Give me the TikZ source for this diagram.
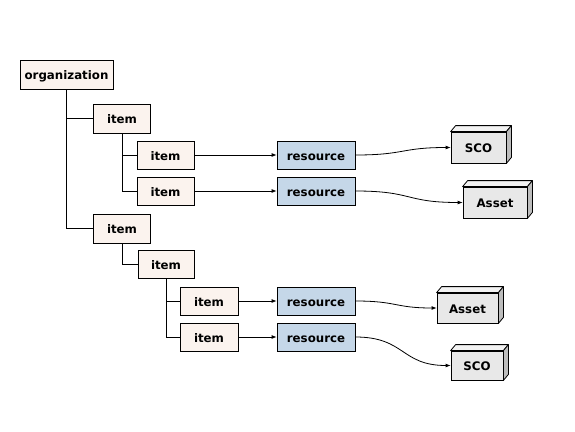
\documentclass[tikz,border=0pt]{standalone}
\usepackage{fontspec}
\setmainfont{DejaVu Sans}
\usetikzlibrary{arrows.meta,calc}
\definecolor{itemfill}{HTML}{FBF3EE}
\definecolor{resfill}{HTML}{C5D7E8}
\definecolor{boxfront}{HTML}{E8E8E8}
\definecolor{boxtop}{HTML}{F2F2F2}
\definecolor{boxside}{HTML}{BDBDBD}
\tikzset{
  base/.style={draw=black, line width=0.8pt, font=\bfseries\fontsize{11.8}{13}\selectfont, inner sep=0pt, text height=10pt, text depth=0pt, anchor=center},
  itembox/.style={base, fill=itemfill, minimum width=57pt, minimum height=28pt},
  resbox/.style={base, fill=resfill, minimum width=78pt, minimum height=28pt},
  cube/.style={base, fill=boxfront, minimum height=31pt},
  tree/.style={line width=0.8pt},
  link/.style={line width=0.8pt, -{Latex[length=5pt,width=4pt]}},
}
\newcommand{\extrude}[1]{%
  \fill[boxtop, draw=black, line width=0.8pt, line join=round] (#1.north west) -- ++(5,-6) -- ($(#1.north east)+(5,-6)$) -- (#1.north east) -- cycle;
  \fill[boxside, draw=black, line width=0.8pt, line join=round] (#1.north east) -- ++(5,-6) -- ($(#1.south east)+(5,-6)$) -- (#1.south east) -- cycle;
}
\begin{document}
\begin{tikzpicture}[x=1pt, y=-1pt]
\useasboundingbox (0,0) rectangle (575,431);
% tree nodes
\node[itembox, minimum width=93pt, minimum height=29pt] (org) at (66.5,74.5) {organization};
\node[itembox, minimum height=29pt] (i1) at (122,118.5) {item};
\node[itembox] (i1a) at (165.5,155) {item};
\node[itembox] (i1b) at (165.5,191) {item};
\node[itembox, minimum height=29pt] (i2) at (122,228.5) {item};
\node[itembox, minimum width=56pt] (i2a) at (166,264.5) {item};
\node[itembox, minimum width=58pt] (i2a1) at (209,301) {item};
\node[itembox, minimum width=58pt] (i2a2) at (209,337) {item};
% resources
\node[resbox] (r1) at (316,155) {resource};
\node[resbox] (r2) at (316,191) {resource};
\node[resbox] (r3) at (316,301) {resource};
\node[resbox] (r4) at (316,337) {resource};
% 3d boxes
\node[cube, minimum width=55pt] (sco1) at (478.5,147.5) {SCO};
\node[cube, minimum width=64pt] (as1) at (495,202.5) {Asset};
\node[cube, minimum width=61pt, minimum height=30pt] (as2) at (467.5,308) {Asset};
\node[cube, minimum width=52pt, minimum height=29pt] (sco2) at (477,365.5) {SCO};
\extrude{sco1}
\extrude{as1}
\extrude{as2}
\extrude{sco2}
% tree lines
\draw[tree] (org.south) |- (i1.west);
\draw[tree] (org.south) |- (i2.west);
\draw[tree] (i1.south) |- (i1a.west);
\draw[tree] (i1.south) |- (i1b.west);
\draw[tree] (i2.south) |- (i2a.west);
\draw[tree] (i2a.south) |- (i2a1.west);
\draw[tree] (i2a.south) |- (i2a2.west);
% item to resource
\draw[link] (i1a.east) -- (r1.west);
\draw[link] (i1b.east) -- (r2.west);
\draw[link] (i2a1.east) -- (r3.west);
\draw[link] (i2a2.east) -- (r4.west);
% resource to target
\draw[link] (r1.east) .. controls +(50,0) and +(-50,0) .. (sco1.west);
\draw[link] (r2.east) .. controls +(58,0) and +(-58,0) .. (as1.west);
\draw[link] (r3.east) .. controls +(42,0) and +(-42,0) .. (as2.west);
\draw[link] (r4.east) .. controls +(50,0) and +(-50,0) .. (sco2.west);
\end{tikzpicture}
\end{document}
